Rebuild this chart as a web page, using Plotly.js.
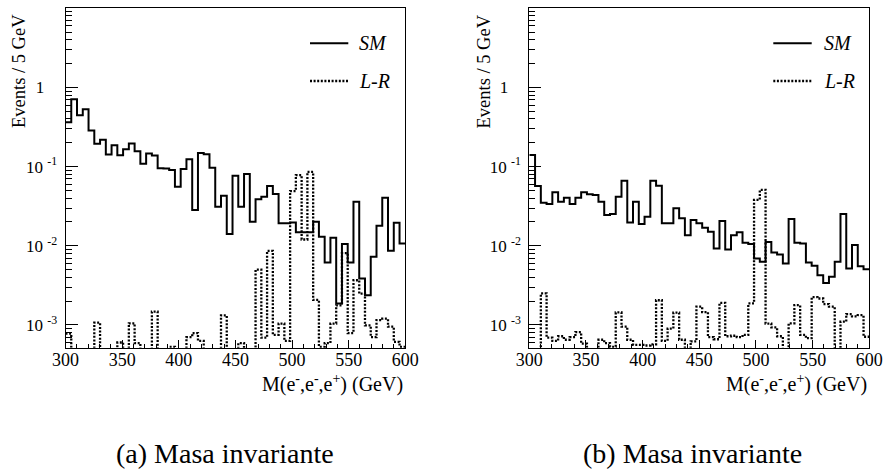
<!DOCTYPE html>
<html><head><meta charset="utf-8">
<script src="https://cdn.plot.ly/plotly-3.0.1.min.js"></script>
<style>html,body{margin:0;padding:0;background:#fff}#chart{width:886px;height:472px}</style>
</head><body><div id="chart"></div>
<script>
// ---- data ----
const xMin = 300, xMax = 600, nBins = 59;
const smA = [0.364,0.711,0.446,0.532,0.286,0.194,0.218,0.142,0.186,0.139,
  0.166,0.196,0.156,0.109,0.147,0.138,0.0953,0.0944,0.0907,0.0558,
  0.0934,0.124,0.0283,0.149,0.143,0.0971,0.0312,0.0429,0.0141,0.0769,
  0.0312,0.0807,0.0201,0.0386,0.0417,0.0569,0.0451,0.0192,0.0192,0.0197,
  0.0148,0.0148,0.0148,0.0201,0.0130,0.00615,0.0126,0.00186,0.0105,0.00615,
  0.0361,0.00386,0.00237,0.00726,0.0179,0.0405,0.00865,0.0195,0.0107];
const lrA = [7.8e-4,0,0,0,0,1.07e-3,0,0,0,6.0e-4,
  0,1.05e-3,5.9e-4,0,0,1.47e-3,0,0,5.3e-4,0,
  0,7.0e-4,7.9e-4,6.3e-4,0,0,0,1.32e-3,0,0,
  5.9e-4,0,0,5.0e-3,6.9e-4,8.6e-3,7.5e-4,1.04e-3,6.3e-4,0.049,
  0.078,0.012,0.086,2.07e-3,5.3e-4,5.9e-4,1.04e-3,1.77e-3,8.1e-3,7.9e-4,
  3.67e-3,2.49e-3,9.9e-4,7.0e-4,1.15e-3,1.2e-3,9.5e-4,6.1e-4,5.3e-4];
const smB = [0.140,0.0569,0.0350,0.0337,0.0473,0.0361,0.0405,0.0337,0.0405,0.0473,
  0.0447,0.0438,0.0361,0.0244,0.0252,0.0417,0.0665,0.0197,0.0361,0.0188,
  0.0233,0.0665,0.0575,0.0192,0.0192,0.0297,0.0222,0.0136,0.0211,0.0192,
  0.0169,0.0150,0.00925,0.0205,0.00899,0.0136,0.0148,0.0109,0.0105,0.00691,
  0.00627,0.0112,0.00823,0.00777,0.00597,0.0218,0.0109,0.0107,0.00615,0.00558,
  0.00425,0.00340,0.00405,0.00627,0.0252,0.00516,0.0102,0.00553,0.00506];
const lrB = [0,0,2.5e-3,6.9e-4,6.3e-4,7.2e-4,6.5e-4,7.0e-4,8.1e-4,5.8e-4,
  0,0,6.5e-4,5.9e-4,5.3e-4,1.44e-3,9.5e-4,6.5e-4,5.6e-4,5.6e-4,
  5.5e-4,5.7e-4,2.05e-3,6.3e-4,9.0e-4,1.43e-3,6.5e-4,0,6.2e-4,1.7e-3,
  1.45e-3,7.0e-4,6.6e-4,1.9e-3,7.2e-4,7.3e-4,7.0e-4,7.5e-4,1.87e-3,0.038,
  0.051,1.04e-3,9.3e-4,7.2e-4,0,1.05e-3,1.78e-3,7.5e-4,6.8e-4,2.25e-3,
  2.16e-3,1.83e-3,1.7e-3,0,1.1e-3,1.37e-3,1.28e-3,1.33e-3,7.1e-4];
const xTickVals = [300,350,400,450,500,550,600];
const yTickVals = [1e-3,1e-2,1e-1,1,10];
const yTickText = ['10\u00A0<sup>-3</sup>','10\u00A0<sup>-2</sup>','10\u00A0<sup>-1</sup>','1\u00A0\u00A0\u00A0','10\u00A0\u00A0\u00A0'];
const seriesNames = ['SM','L-R'];
const xTitle = 'M(e<sup>-</sup>,e<sup>-</sup>,e<sup>+</sup>) (GeV)';
const yTitle = 'Events / 5 GeV';
const captions = ['(a) Masa invariante','(b) Masa invariante'];

// ---- helpers ----
const W = 886, H = 472;
const px = v => v / W, py = v => 1 - v / H;
const edges = Array.from({length: nBins + 1}, (_, i) => xMin + i * (xMax - xMin) / nBins);
const floorVal = 1e-6; // empty bins drawn below frame (clipped), as ROOT does on log scale
const dotDash = '2px,1.6px';
function stepTrace(vals, xa, ya, dash, w) {
  const y = vals.map(v => v > 0 ? v : floorVal);
  return {
    x: edges, y: y.concat([y[y.length - 1]]),
    xaxis: xa, yaxis: ya, type: 'scatter', mode: 'lines',
    line: {shape: 'hv', color: '#000', width: w, dash: dash},
    hoverinfo: 'skip', showlegend: false
  };
}
const serif = 'Liberation Serif';
const minorX = [];
for (let v = xMin + 10; v < xMax; v += 10) if (v % 50 !== 0) minorX.push(v);
const minorY = [];
for (let d = -4; d <= 0; d++) for (let m = 2; m <= 9; m++) minorY.push(m * Math.pow(10, d));

const yRange = [Math.log10(5.16e-4), 1];
function xAxis(dom, anchor) {
  return {domain: dom, anchor: anchor, range: [xMin, xMax], tickmode: 'array', tickvals: xTickVals,
    ticktext: xTickVals.map(String),
    ticks: 'inside', ticklen: 8, tickwidth: 1, tickcolor: '#000',
    minor: {tickmode: 'array', tickvals: minorX, ticks: 'inside', ticklen: 4, tickwidth: 1, tickcolor: '#000'},
    showline: true, mirror: true, linecolor: '#000', linewidth: 1, showgrid: false, zeroline: false,
    tickfont: {family: serif, size: 18, color: '#000'}, ticklabelstandoff: -4, fixedrange: true};
}
function yAxis(anchor) {
  return {domain: [py(347.7), py(8.3)], anchor: anchor, type: 'log', range: yRange,
    tickmode: 'array', tickvals: yTickVals, ticktext: yTickText,
    ticks: 'inside', ticklen: 12, tickwidth: 1, tickcolor: '#000',
    minor: {tickmode: 'array', tickvals: minorY, ticks: 'inside', ticklen: 6, tickwidth: 1, tickcolor: '#000'},
    showline: true, mirror: true, linecolor: '#000', linewidth: 1, showgrid: false, zeroline: false,
    tickfont: {family: serif, size: 17, color: '#000'}, ticklabelstandoff: 4, fixedrange: true};
}

const data = [
  stepTrace(smA, 'x', 'y', 'solid', 2), stepTrace(lrA, 'x', 'y', dotDash, 2.3),
  stepTrace(smB, 'x2', 'y2', 'solid', 2), stepTrace(lrB, 'x2', 'y2', dotDash, 2.3)
];

const panels = [
  {x0: 65.5, x1: 405.3, yTitleX: 18.5, legLine: [310, 348.3], legText: 357, cap: 225},
  {x0: 529.3, x1: 869.3, yTitleX: 483, legLine: [773.3, 811.7], legText: 822, cap: 692}
];
const annotations = [], shapes = [];
panels.forEach((p, i) => {
  annotations.push({xref: 'paper', yref: 'paper', x: px(p.yTitleX), y: py(71.5), text: yTitle, textangle: -90,
    showarrow: false, xanchor: 'center', yanchor: 'middle', font: {family: serif, size: 18.5, color: '#000'}});
  annotations.push({xref: 'paper', yref: 'paper', x: px(p.x1), y: py(383), text: xTitle,
    showarrow: false, xanchor: 'right', yanchor: 'middle', font: {family: serif, size: 20, color: '#000'}});
  annotations.push({xref: 'paper', yref: 'paper', x: px(p.cap), y: py(453), text: captions[i],
    showarrow: false, xanchor: 'center', yanchor: 'middle', font: {family: serif, size: 28, color: '#000'}});
  [43.3, 81].forEach((ly, k) => {
    shapes.push({type: 'line', xref: 'paper', yref: 'paper', x0: px(p.legLine[0]), x1: px(p.legLine[1]), y0: py(ly), y1: py(ly),
      line: {color: '#000', width: k === 0 ? 2 : 2.3, dash: k === 0 ? 'solid' : dotDash}});
    annotations.push({xref: 'paper', yref: 'paper', x: px(p.legText), y: py(ly), text: '<i>' + seriesNames[k] + '</i>',
      showarrow: false, xanchor: 'left', yanchor: 'middle', font: {family: serif, size: 20, color: '#000'}});
  });
});

const layout = {
  width: W, height: H, margin: {l: 0, r: 0, t: 0, b: 0}, paper_bgcolor: '#fff', plot_bgcolor: '#fff',
  font: {family: serif, color: '#000'},
  showlegend: false,
  xaxis: xAxis([px(65.5), px(405.3)], 'y'), yaxis: yAxis('x'),
  xaxis2: xAxis([px(529.3), px(869.3)], 'y2'), yaxis2: yAxis('x2'),
  annotations: annotations, shapes: shapes
};
Plotly.newPlot('chart', data, layout, {staticPlot: true, displayModeBar: false});
</script></body></html>
